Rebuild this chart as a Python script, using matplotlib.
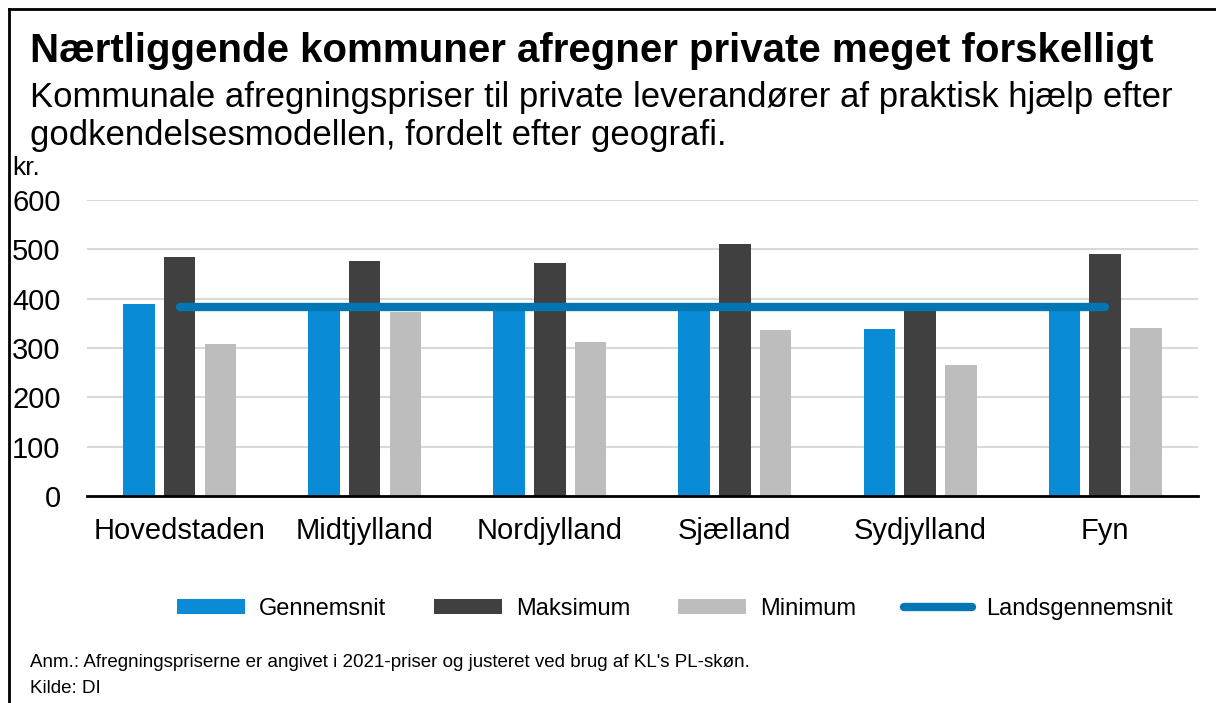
import numpy as np
import matplotlib
matplotlib.use("Agg")
import matplotlib.pyplot as plt
from matplotlib.lines import Line2D

plt.rcParams['font.family'] = ['Liberation Sans', 'DejaVu Sans']

regioner = ["Hovedstaden", "Midtjylland", "Nordjylland", "Sjælland", "Sydjylland", "Fyn"]
gennemsnit = [390, 380, 380, 382, 339, 381]
maksimum = [485, 476, 473, 510, 380, 491]
minimum = [308, 373, 312, 337, 266, 341]
landsgennemsnit = [383] * 6
yticks = [0, 100, 200, 300, 400, 500, 600]

fig = plt.figure(figsize=(12.16, 7.03), dpi=100)
ax = fig.add_axes([0.0715, 0.2944, 0.9135, 0.4211])

x = np.arange(len(regioner))
w = 0.17
off = 0.22
b1 = ax.bar(x - off, gennemsnit, w, color="#0a8bd6", label="Gennemsnit", zorder=2)
b2 = ax.bar(x, maksimum, w, color="#404040", label="Maksimum", zorder=2)
b3 = ax.bar(x + off, minimum, w, color="#bdbdbd", label="Minimum", zorder=2)
l1, = ax.plot(x, landsgennemsnit, color="#0077b3", lw=6, solid_capstyle="round",
              label="Landsgennemsnit", zorder=3)

ax.set_xlim(-0.5, 5.5)
ax.set_ylim(0, 600)
ax.set_yticks(yticks)
ax.set_xticks(x)
ax.set_xticklabels(regioner, fontsize=21)
ax.tick_params(axis="y", labelsize=21, length=0, pad=19)
ax.tick_params(axis="x", length=0, pad=15)
ax.grid(axis="y", color="#d9d9d9", lw=1.5, zorder=0)
for s in ["top", "right", "left"]:
    ax.spines[s].set_visible(False)
ax.spines["bottom"].set_linewidth(2)
ax.spines["bottom"].set_zorder(4)

fig.text(0.025, 0.928, "Nærtliggende kommuner afregner private meget forskelligt",
         fontsize=29, fontweight="bold", va="center")
fig.text(0.025, 0.862, "Kommunale afregningspriser til private leverandører af praktisk hjælp efter",
         fontsize=25, va="center")
fig.text(0.025, 0.807, "godkendelsesmodellen, fordelt efter geografi.",
         fontsize=25, va="center")
fig.text(0.010, 0.761, "kr.", fontsize=19, va="center")

fig.legend([b1, b2, b3, l1], ["Gennemsnit", "Maksimum", "Minimum", "Landsgennemsnit"],
           loc="center", bbox_to_anchor=(0.555, 0.134), ncol=4, frameon=False,
           fontsize=17, handlelength=2.9, handleheight=0.65, columnspacing=2.0,
           handletextpad=0.6)

fig.text(0.025, 0.057, "Anm.: Afregningspriserne er angivet i 2021-priser og justeret ved brug af KL's PL-skøn.",
         fontsize=13.5, va="center")
fig.text(0.025, 0.021, "Kilde: DI", fontsize=13.5, va="center")

# frame of the cropped screenshot
fig.add_artist(Line2D([0.0075, 0.0075], [0, 0.987], color="black", lw=2, transform=fig.transFigure))
fig.add_artist(Line2D([0.0075, 1], [0.987, 0.987], color="black", lw=2, transform=fig.transFigure))

fig.savefig("out.png", dpi=100)
